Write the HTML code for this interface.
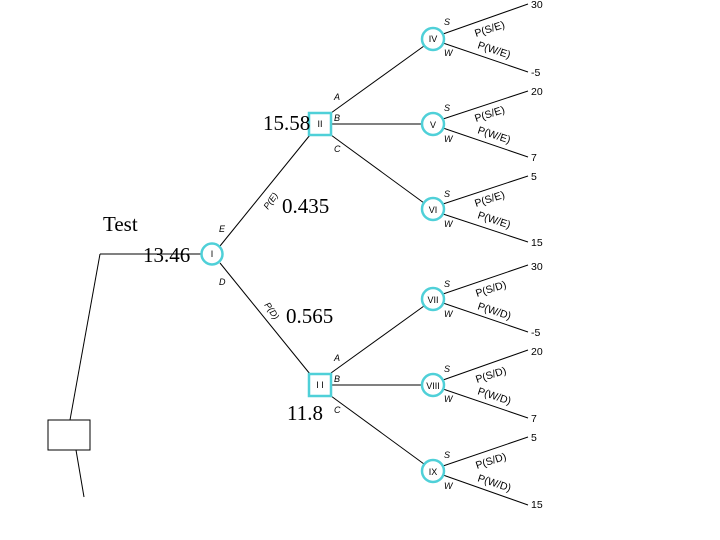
<!DOCTYPE html>
<html><head><style>body{margin:0;background:#fff}svg{display:block}</style></head><body>
<svg width="720" height="540" viewBox="0 0 720 540" font-family="Liberation Sans, sans-serif">
<g stroke="#000" stroke-width="1" fill="none">
<line x1="100" y1="254" x2="201" y2="254"/>
<line x1="100" y1="254" x2="70" y2="420"/>
<rect x="48" y="420" width="42" height="30"/>
<line x1="76" y1="450" x2="84" y2="497"/>
<line x1="220" y1="246" x2="310" y2="135"/>
<line x1="220" y1="263" x2="310" y2="374"/>
<line x1="331" y1="113" x2="424" y2="46"/>
<line x1="332" y1="124" x2="422" y2="124"/>
<line x1="331" y1="135" x2="424" y2="203"/>
<line x1="331" y1="373" x2="424" y2="306"/>
<line x1="332" y1="385" x2="422" y2="385"/>
<line x1="331" y1="396" x2="424" y2="464"/>
<g>
<line x1="443" y1="34" x2="528" y2="4"/><line x1="443" y1="43" x2="528" y2="72"/>
<line x1="443" y1="119" x2="528" y2="91"/><line x1="443" y1="128" x2="528" y2="157"/>
<line x1="443" y1="204" x2="528" y2="176"/><line x1="443" y1="214" x2="528" y2="242"/>
<line x1="443" y1="294" x2="528" y2="265"/><line x1="443" y1="303" x2="528" y2="332"/>
<line x1="443" y1="380" x2="528" y2="350"/><line x1="443" y1="389" x2="528" y2="418"/>
<line x1="443" y1="466" x2="528" y2="437"/><line x1="443" y1="475" x2="528" y2="505"/>
</g>
</g>
<g stroke="#4fd0d8" stroke-width="2.5" fill="#fff">
<circle cx="212" cy="254" r="10.5"/>
<rect x="309" y="113" width="22" height="22"/>
<rect x="309" y="374" width="22" height="22"/>
<circle cx="433" cy="39" r="11"/><circle cx="433" cy="124" r="11"/><circle cx="433" cy="209" r="11"/>
<circle cx="433" cy="299" r="11"/><circle cx="433" cy="385" r="11"/><circle cx="433" cy="471" r="11"/>
</g>
<g font-size="9" text-anchor="middle" fill="#000">
<text x="212" y="257">I</text><text x="320" y="127">II</text><text x="320" y="388">I I</text>
<text x="433" y="42">IV</text><text x="433" y="128">V</text><text x="433" y="213">VI</text>
<text x="433" y="303">VII</text><text x="433" y="389">VIII</text><text x="433" y="475">IX</text>
</g>
<g font-size="9" font-style="italic" fill="#000">
<text x="219" y="232">E</text><text x="219" y="285">D</text>
<text x="334" y="100">A</text><text x="334" y="121">B</text><text x="334" y="152">C</text>
<text x="334" y="361">A</text><text x="334" y="382">B</text><text x="334" y="413">C</text>
<text x="444" y="25">S</text><text x="444" y="56">W</text>
<text x="444" y="111">S</text><text x="444" y="142">W</text>
<text x="444" y="197">S</text><text x="444" y="227">W</text>
<text x="444" y="287">S</text><text x="444" y="317">W</text>
<text x="444" y="372">S</text><text x="444" y="402">W</text>
<text x="444" y="458">S</text><text x="444" y="489">W</text>
<text transform="translate(268,210) rotate(-55)">P(E)</text>
<text transform="translate(264,305) rotate(55)">P(D)</text>
<g font-style="normal" font-size="10.5">
<text transform="translate(476,37) rotate(-18)">P(S/E)</text><text transform="translate(477,48) rotate(18)">P(W/E)</text>
<text transform="translate(476,122) rotate(-18)">P(S/E)</text><text transform="translate(477,133) rotate(18)">P(W/E)</text>
<text transform="translate(476,207) rotate(-18)">P(S/E)</text><text transform="translate(477,218) rotate(18)">P(W/E)</text>
<text transform="translate(477,297) rotate(-18)">P(S/D)</text><text transform="translate(477,309) rotate(18)">P(W/D)</text>
<text transform="translate(477,383) rotate(-18)">P(S/D)</text><text transform="translate(477,394) rotate(18)">P(W/D)</text>
<text transform="translate(477,469) rotate(-18)">P(S/D)</text><text transform="translate(477,481) rotate(18)">P(W/D)</text>
</g>
</g>
<g font-size="10.5" fill="#000">
<text x="531" y="8">30</text><text x="531" y="76">-5</text>
<text x="531" y="95">20</text><text x="531" y="161">7</text>
<text x="531" y="180">5</text><text x="531" y="246">15</text>
<text x="531" y="270">30</text><text x="531" y="336">-5</text>
<text x="531" y="355">20</text><text x="531" y="422">7</text>
<text x="531" y="441">5</text><text x="531" y="508">15</text>
</g>
<g font-family="Liberation Serif, serif" font-size="21" fill="#000">
<text x="263" y="130">15.58</text>
<text x="282" y="213">0.435</text>
<text x="103" y="231">Test</text>
<text x="143" y="262">13.46</text>
<text x="286" y="323">0.565</text>
<text x="287" y="420">11.8</text>
</g>
</svg>
</body></html>
